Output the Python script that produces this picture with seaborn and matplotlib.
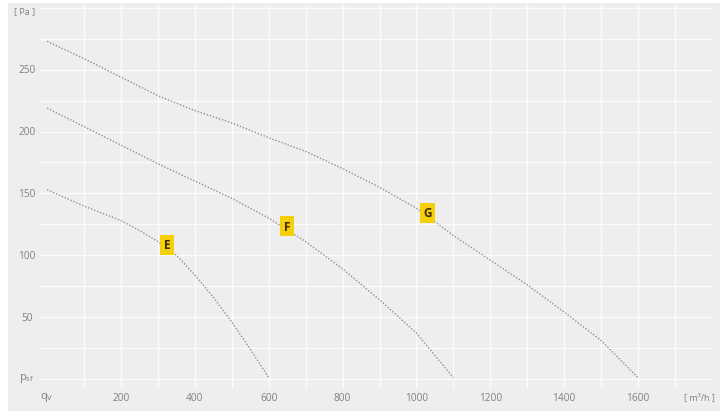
import numpy as np
import pandas as pd
import seaborn as sns
import matplotlib.pyplot as plt

# fan curves: airflow q_V [m3/h] vs static pressure p_sf [Pa]
curve_names = ["E", "F", "G"]
e_flow = [0, 45, 90, 140, 200, 250, 300, 350, 400, 450, 500, 550, 600]
e_pressure = [153, 147, 141, 135, 128, 120, 111, 100, 84, 66, 46, 24, 1]
f_flow = [0, 100, 200, 300, 400, 500, 600, 700, 800, 900, 1000, 1100]
f_pressure = [219, 204, 189, 174, 160, 146, 130, 111, 89, 64, 37, 1]
g_flow = [0, 100, 200, 300, 400, 500, 600, 700, 800, 900, 1000, 1100,
          1200, 1300, 1400, 1500, 1600]
g_pressure = [273, 259, 244, 229, 217, 207, 195, 184, 170, 155, 138, 116,
              96, 76, 54, 31, 1]
label_flow = [325, 650, 1030]

x_ticks = [200, 400, 600, 800, 1000, 1200, 1400, 1600]
y_ticks = [50, 100, 150, 200, 250]

flows = [e_flow, f_flow, g_flow]
pressures = [e_pressure, f_pressure, g_pressure]
df = pd.concat([pd.DataFrame({"q": q, "p": p, "curve": n})
                for n, q, p in zip(curve_names, flows, pressures)])

sns.set_style("white")
plt.rcParams["font.family"] = ["Open Sans", "DejaVu Sans"]

fig = plt.figure(figsize=(7.27, 4.14), dpi=100, facecolor="white")
ax = fig.add_axes([8 / 727, 2 / 414, 712 / 727, 408 / 414])
ax.set_facecolor("#eeeeee")
for s in ax.spines.values():
    s.set_visible(False)
ax.set_xlim(-106, 1822)
ax.set_ylim(-26, 304)
ax.set_xticks([])
ax.set_yticks([])

# grid
grid_c = "#fbfbfb"
ax.hlines(np.arange(0, 301, 25), -19, 1800, color=grid_c, lw=1.0, zorder=1)
ax.vlines(np.arange(100, 1701, 100), -7, 302, color=grid_c, lw=1.0, zorder=1)

sns.lineplot(data=df, x="q", y="p", hue="curve", palette=["#909090"] * 3,
             sort=False, legend=False, ax=ax, lw=1.0,
             linestyle=(0, (1, 1.3)), zorder=3)

# curve labels
for n, q, p, lq in zip(curve_names, flows, pressures, label_flow):
    lp = np.interp(lq, q, p)
    ax.text(lq, lp + 3, n, ha="center", va="center", fontsize=8.5,
            fontweight="bold", color="#3b2b05", zorder=4,
            bbox=dict(boxstyle="square,pad=0.3", fc="#f4cf0a", ec="none"))

tc = "#808080"
for v in y_ticks:
    ax.text(-54, v, str(v), ha="center", va="center", fontsize=7.3, color=tc)
ax.text(-54, 1, r"$\mathregular{p_{sf}}$", ha="center", va="center",
        fontsize=8, color=tc)
ax.text(-62, 298, "[ Pa ]", ha="center", va="center", fontsize=6.5, color=tc)
for v in x_ticks:
    ax.text(v, -15, str(v), ha="center", va="center", fontsize=7.3, color=tc)
ax.text(0, -14, r"$\mathregular{q_V}$", ha="center", va="center",
        fontsize=8, color=tc)
ax.text(1765, -14, "[ m³/h ]", ha="center", va="center", fontsize=6.5,
        color=tc)

fig.savefig("out.png", dpi=100, facecolor="white")
